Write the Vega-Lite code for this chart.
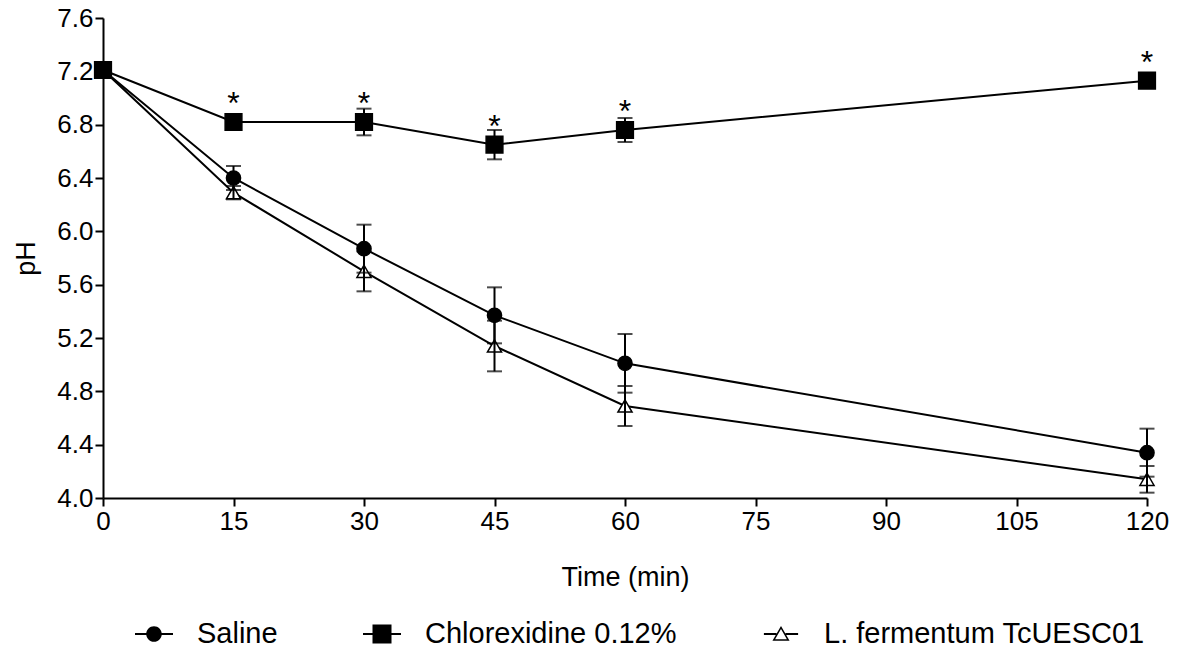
{
  "$schema": "https://vega.github.io/schema/vega-lite/v6.json",
  "autosize": "none",
  "padding": {"left": 103, "top": 18, "right": 31, "bottom": 158},
  "width": 1044,
  "height": 480,
  "background": "white",
  "config": {
    "view": {"stroke": null},
    "font": "Liberation Sans",
    "axis": {
      "domainColor": "black", "domainWidth": 2,
      "tickColor": "black", "tickWidth": 2, "tickSize": 8,
      "labelFont": "Liberation Sans", "labelFontSize": 26, "labelColor": "black", "labelPadding": 2,
      "titleFont": "Liberation Sans", "titleFontSize": 27, "titleFontWeight": "normal", "titleColor": "black",
      "grid": false
    },
    "legend": {
      "labelFont": "Liberation Sans", "labelFontSize": 29, "labelColor": "black", "labelLimit": 0
    }
  },
  "data": {
    "values": [
      {"series": "Saline", "time": 0, "pH": 7.21, "sd": 0.0, "sig": ""},
      {"series": "Saline", "time": 15, "pH": 6.40, "sd": 0.09, "sig": ""},
      {"series": "Saline", "time": 30, "pH": 5.87, "sd": 0.18, "sig": ""},
      {"series": "Saline", "time": 45, "pH": 5.37, "sd": 0.21, "sig": ""},
      {"series": "Saline", "time": 60, "pH": 5.01, "sd": 0.22, "sig": ""},
      {"series": "Saline", "time": 120, "pH": 4.34, "sd": 0.18, "sig": ""},
      {"series": "L. fermentum TcUESC01", "time": 0, "pH": 7.21, "sd": 0.0, "sig": ""},
      {"series": "L. fermentum TcUESC01", "time": 15, "pH": 6.29, "sd": 0.05, "sig": ""},
      {"series": "L. fermentum TcUESC01", "time": 30, "pH": 5.70, "sd": 0.15, "sig": ""},
      {"series": "L. fermentum TcUESC01", "time": 45, "pH": 5.14, "sd": 0.19, "sig": ""},
      {"series": "L. fermentum TcUESC01", "time": 60, "pH": 4.69, "sd": 0.15, "sig": ""},
      {"series": "L. fermentum TcUESC01", "time": 120, "pH": 4.14, "sd": 0.10, "sig": ""},
      {"series": "Chlorexidine 0.12%", "time": 0, "pH": 7.21, "sd": 0.01, "sig": ""},
      {"series": "Chlorexidine 0.12%", "time": 15, "pH": 6.82, "sd": 0.02, "sig": "*"},
      {"series": "Chlorexidine 0.12%", "time": 30, "pH": 6.82, "sd": 0.10, "sig": "*"},
      {"series": "Chlorexidine 0.12%", "time": 45, "pH": 6.65, "sd": 0.11, "sig": "*"},
      {"series": "Chlorexidine 0.12%", "time": 60, "pH": 6.76, "sd": 0.09, "sig": "*"},
      {"series": "Chlorexidine 0.12%", "time": 120, "pH": 7.13, "sd": 0.03, "sig": "*"}
    ]
  },
  "encoding": {
    "x": {
      "field": "time", "type": "quantitative",
      "scale": {"domain": [0, 120], "nice": false, "zero": false},
      "axis": {"values": [0, 15, 30, 45, 60, 75, 90, 105, 120], "title": "Time (min)", "titlePadding": 30, "labelFlush": false}
    },
    "y": {
      "field": "pH", "type": "quantitative",
      "scale": {"domain": [4.0, 7.6], "nice": false, "zero": false},
      "axis": {"values": [4.0, 4.4, 4.8, 5.2, 5.6, 6.0, 6.4, 6.8, 7.2, 7.6], "format": ".1f", "title": "pH", "titlePadding": 16, "labelFlush": false}
    }
  },
  "layer": [
    {
      "mark": {"type": "line", "color": "black", "strokeWidth": 2},
      "encoding": {"detail": {"field": "series", "type": "nominal"}}
    },
    {
      "mark": {"type": "point", "filled": false, "opacity": 1, "stroke": "black", "strokeWidth": 1.5},
      "encoding": {
        "shape": {
          "condition": [
            {"test": "datum.series === 'Chlorexidine 0.12%'", "value": "square"},
            {"test": "datum.series === 'L. fermentum TcUESC01'", "value": "triangle-up"}
          ],
          "value": "circle"
        },
        "size": {
          "condition": {"test": "datum.series === 'Chlorexidine 0.12%'", "value": 280},
          "value": 200
        },
        "fill": {
          "condition": {"test": "datum.series === 'L. fermentum TcUESC01'", "value": "white"},
          "value": "black"
        }
      }
    },
    {
      "transform": [{"filter": "false"}],
      "mark": {"type": "point", "filled": true, "opacity": 1, "color": "black"},
      "encoding": {
        "shape": {
          "field": "series", "type": "nominal",
          "scale": {
            "domain": ["Saline", "Chlorexidine 0.12%", "L. fermentum TcUESC01"],
            "range": [
              "M-1,-0.055H1V0.055H-1ZM0.41,0A0.41,0.41,0,1,1,-0.41,0A0.41,0.41,0,1,1,0.41,0Z",
              "M-1,-0.055H1V0.055H-1ZM-0.5,-0.5H0.5V0.5H-0.5Z",
              "M-0.9,-0.055H-0.24V0.055H-0.9ZM0.24,-0.055H0.9V0.055H0.24ZM0,-0.42L0.45,0.36L-0.45,0.36ZM0,-0.26L-0.31,0.28L0.31,0.28Z"
            ]
          },
          "legend": {
            "title": null,
            "orient": "none",
            "direction": "horizontal",
            "legendX": 32,
            "legendY": 597,
            "symbolSize": 1444,
            "symbolStrokeWidth": 0,
            "symbolFillColor": "black",
            "labelOffset": 24,
            "columnPadding": 85
          }
        }
      }
    },
    {
      "mark": {"type": "errorbar", "color": "black", "ticks": {"size": 15, "thickness": 2, "color": "black"}, "rule": {"strokeWidth": 2, "color": "black"}},
      "encoding": {"yError": {"field": "sd"}}
    },
    {
      "transform": [{"filter": "datum.sig !== ''"}],
      "mark": {"type": "text", "fontSize": 32, "font": "Liberation Sans", "color": "black", "baseline": "alphabetic", "align": "center", "dy": -8},
      "encoding": {"text": {"field": "sig", "type": "nominal"}}
    }
  ]
}
